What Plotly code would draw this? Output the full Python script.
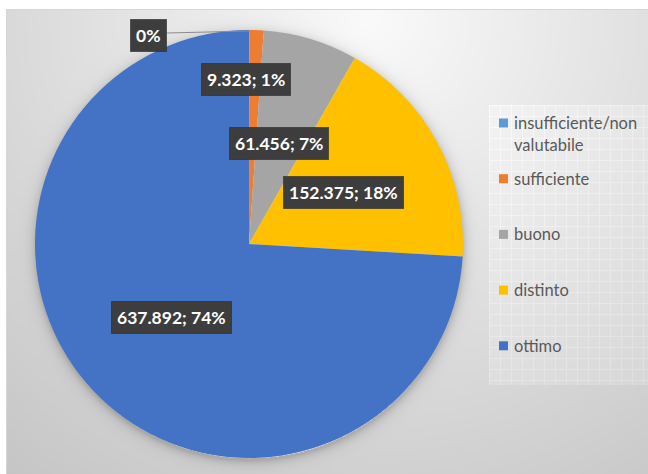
import base64, struct, zlib, math, textwrap
import numpy as np
import plotly.graph_objects as go

# ---------------- data ----------------
categories = ["insufficiente/non valutabile", "sufficiente", "buono", "distinto", "ottimo"]
values = [150, 9323, 61456, 152375, 637892]
show_value = [False, True, True, True, True]
colors = ["#5B9BD5", "#ED7D31", "#A5A5A5", "#FFC000", "#4472C4"]

# ---------------- layout constants ----------------
W, H = 648, 474
PIE_X = (35, 463)     # px
PIE_Y = (30, 458)     # px (top, bottom)
CX = (PIE_X[0] + PIE_X[1]) / 2
CY = (PIE_Y[0] + PIE_Y[1]) / 2
R = (PIE_X[1] - PIE_X[0]) / 2

label_rfrac = [None, 0.77, 0.49, 0.5, 0.5]
label_nudge = [(0, 0), (-9, 0), (0, 0), (0, 0), (0, 0)]
outside_offset = (-101, 5)
LABEL_FONT = dict(family="Lato", size=17.5, color="white", weight="bold")
LEG_FONT = dict(family="Lato", size=16.5, color="#595959")
LEG_MARK_X = 499
LEG_TEXT_X = 512
LEG_TOP = 123
LEG_STEP = 55.7
LEG_LINE = 22
LEG_BOX = (489, 105, 648, 385)


def px2paper(x, y):
    return x / W, 1 - y / H


# ---------------- background image (radial gradient, shadow, legend pattern) ----
yy, xx = np.mgrid[0:H, 0:W].astype(float)
d = np.sqrt(((xx - 370) / 620) ** 2 + ((yy - 20) / 620) ** 2)
g = 250 - 56 * np.clip(d, 0, 1)
# pie shadow
rr = np.sqrt((xx - CX) ** 2 + (yy - (CY + 2)) ** 2)
sh = np.where(rr > R - 2, 38 * np.exp(-(np.maximum(rr - R, 0)) / 5.0), 0)
g = g - sh
# legend pattern
lx0, ly0, lx1, ly1 = LEG_BOX
inleg = (xx >= lx0) & (xx < lx1) & (yy >= ly0) & (yy < ly1)
grid = (((xx - lx0) % 11) < 1) | (((yy - ly0) % 11) < 1)
leg = g + 5 + 3 * (((xx + yy) % 2) == 0) + 8 * grid
g = np.where(inleg, leg, g)
# outer frame
frame = (xx < 6) | (yy < 9)
g = np.where(frame, 255, g)
g = np.where(((xx == 6) & (yy >= 9)) | ((yy == 9) & (xx >= 6)), 214, g)
img = np.clip(g, 0, 255).astype(np.uint8)
rgb = np.stack([img, img, img], axis=-1)


def to_png(a):
    h, w, _ = a.shape
    raw = b"".join(b"\x00" + a[i].tobytes() for i in range(h))

    def chunk(t, data):
        c = struct.pack(">I", len(data)) + t + data
        return c + struct.pack(">I", zlib.crc32(t + data) & 0xFFFFFFFF)

    return (b"\x89PNG\r\n\x1a\n" + chunk(b"IHDR", struct.pack(">IIBBBBB", w, h, 8, 2, 0, 0, 0))
            + chunk(b"IDAT", zlib.compress(raw, 9)) + chunk(b"IEND", b""))


src = "data:image/png;base64," + base64.b64encode(to_png(rgb)).decode()

# ---------------- figure ----------------
x0, y0 = px2paper(PIE_X[0], PIE_Y[1])
x1, y1 = px2paper(PIE_X[1], PIE_Y[0])

fig = go.Figure(go.Pie(
    labels=categories, values=values, sort=False, direction="clockwise", rotation=0,
    marker=dict(colors=colors, line=dict(width=0)), textinfo="none", hoverinfo="label+value+percent",
    domain=dict(x=[x0, x1], y=[y0, y1]), showlegend=False,
))

total = sum(values)
annotations = []
shapes = []
cum = 0
for i, v in enumerate(values):
    mid = (cum + v / 2) / total
    cum += v
    th = 2 * math.pi * mid
    pct = round(100 * v / total)
    vtxt = f"{v:,}".replace(",", ".")
    text = f"{vtxt}; {pct}%" if show_value[i] else f"{pct}%"
    if label_rfrac[i] is None:
        ex, ey = CX + R * math.sin(th), CY - R * math.cos(th)
        lx, ly = ex + outside_offset[0], ey + outside_offset[1]
        lpx, lpy = px2paper(lx + 19, ly - 2)
        epx, epy = px2paper(ex, ey + 1)
        shapes.append(dict(type="line", xref="paper", yref="paper", x0=lpx, y0=lpy, x1=epx, y1=epy,
                           line=dict(color="#8c8c8c", width=1)))
    else:
        rf = label_rfrac[i] * R
        lx = CX + rf * math.sin(th) + label_nudge[i][0]
        ly = CY - rf * math.cos(th) + label_nudge[i][1]
    ax, ay = px2paper(lx, ly)
    annotations.append(dict(xref="paper", yref="paper", x=ax, y=ay, text=text, showarrow=False,
                            xanchor="center", yanchor="middle", borderpad=5,
                            font=LABEL_FONT, bgcolor="#3d3d3d",
                            bordercolor="rgba(40,40,40,0.6)", borderwidth=1))

# manual legend
for i, (cat, col) in enumerate(zip(categories, colors)):
    ycen = LEG_TOP + i * LEG_STEP
    mx0, my0 = px2paper(LEG_MARK_X, ycen - 4.5)
    mx1, my1 = px2paper(LEG_MARK_X + 9, ycen + 4.5)
    shapes.append(dict(type="rect", xref="paper", yref="paper", x0=mx0, y0=my1, x1=mx1, y1=my0,
                       fillcolor=col, line=dict(width=0)))
    for j, line in enumerate(textwrap.wrap(cat, 17)):
        tx, ty = px2paper(LEG_TEXT_X, ycen + j * LEG_LINE)
        annotations.append(dict(xref="paper", yref="paper", x=tx, y=ty, text=line, showarrow=False,
                                xanchor="left", yanchor="middle", font=LEG_FONT))

fig.update_layout(
    width=W, height=H, autosize=False, margin=dict(l=0, r=0, t=0, b=0),
    paper_bgcolor="white", plot_bgcolor="white",
    images=[dict(source=src, xref="paper", yref="paper", x=0, y=1, sizex=1, sizey=1,
                 xanchor="left", yanchor="top", sizing="stretch", layer="below")],
    annotations=annotations, shapes=shapes,
)
fig.write_html("out.html", config={"displayModeBar": False},
               post_script="document.body.style.margin='0';document.body.style.overflow='hidden';")
